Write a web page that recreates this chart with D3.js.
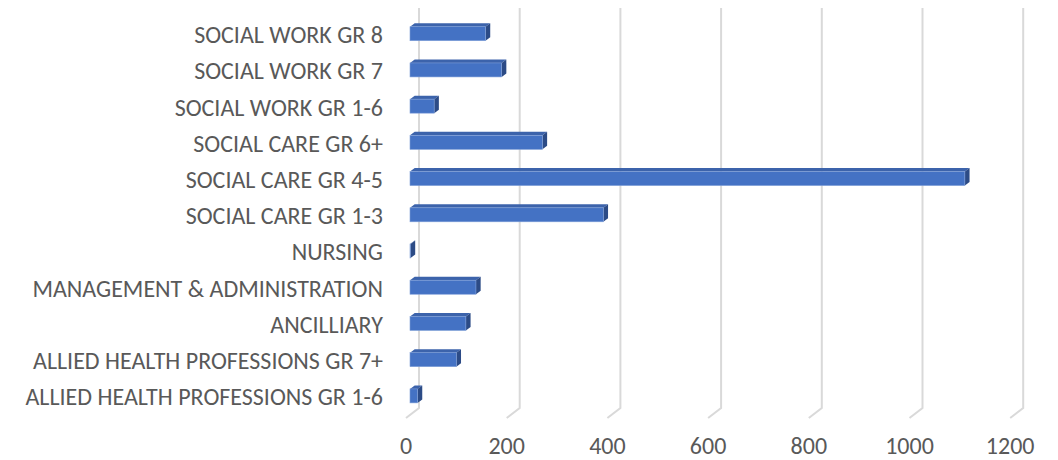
<!DOCTYPE html>
<html>
<head>
<meta charset="utf-8">
<script src="https://cdn.jsdelivr.net/npm/d3@7"></script>
<style>
  html, body { margin: 0; padding: 0; background: #ffffff; }
  svg { display: block; }
  text { font-family: Carlito, Lato, "Open Sans", sans-serif; fill: #595959; }
</style>
</head>
<body>
<svg id="chart" width="1058" height="460"></svg>
<script>
// Staff headcount by grade group
const categories = [
  "ALLIED HEALTH PROFESSIONS GR 1-6",
  "ALLIED HEALTH PROFESSIONS GR 7+",
  "ANCILLIARY",
  "MANAGEMENT & ADMINISTRATION",
  "NURSING",
  "SOCIAL CARE GR 1-3",
  "SOCIAL CARE GR 4-5",
  "SOCIAL CARE GR 6+",
  "SOCIAL WORK GR 1-6",
  "SOCIAL WORK GR 7",
  "SOCIAL WORK GR 8"
];
const values = [15, 92, 111, 131, 1, 384, 1102, 263, 48, 182, 150];
const tickValues = [0, 200, 400, 600, 800, 1000, 1200];

const svg = d3.select("#chart");

// Oblique 3D layout: floor front edge, bar plane and back wall offsets
const floorFrontY = 418;
const wallBottomY = 408;
const wallTopY = 8;
const wallDX = 13, wallDY = -10;   // floor front -> back wall
const barDX = 4, barDY = -3;       // floor front -> bar front face
const depthDX = 4.7, depthDY = -3.5; // bar thickness

const x = d3.scaleLinear().domain([0, 1200]).range([406, 406 + 1200 * 0.5035]);

// Categories listed bottom-up, so the first one sits at the bottom
const y = d3.scaleBand()
  .domain(categories.slice().reverse())
  .range([15.6, 414])
  .padding(0);
const barH = 14;

// Gridlines: vertical on the back wall, then slanting across the floor
const grid = svg.append("g");
tickValues.forEach(v => {
  const bx = x(v) + wallDX;
  grid.append("polyline")
    .attr("points", `${bx},${wallTopY} ${bx},${wallBottomY} ${x(v)},${floorFrontY}`)
    .attr("fill", "none")
    .attr("stroke", "#d9d9d9")
    .attr("stroke-width", 2);
});

// Value axis labels along the front edge of the floor
svg.append("g").selectAll("text")
  .data(tickValues)
  .join("text")
  .attr("x", d => x(d))
  .attr("y", 454)
  .attr("text-anchor", "middle")
  .attr("font-size", 24)
  .text(d => d);

// Category labels
svg.append("g").selectAll("text")
  .data(categories)
  .join("text")
  .attr("x", 383)
  .attr("y", d => y(d) + y.bandwidth() / 2 + 1)
  .attr("dy", "0.35em")
  .attr("text-anchor", "end")
  .attr("font-size", 24)
  .text(d => d);

// 3D bars: front face, top face, right side face
const bars = svg.append("g");
categories.forEach((c, i) => {
  const v = values[i];
  const x0 = x(0) + barDX;
  const x1 = x(v) + barDX;
  const cy = y(c) + y.bandwidth() / 2;
  const top = cy - barH / 2, bot = cy + barH / 2;
  const g = bars.append("g");
  // top face
  g.append("polygon")
    .attr("points", [
      [x0, top], [x1, top], [x1 + depthDX, top + depthDY], [x0 + depthDX, top + depthDY]
    ].map(p => p.join(",")).join(" "))
    .attr("fill", "#3c63ab");
  // right side face
  g.append("polygon")
    .attr("points", [
      [x1, top], [x1 + depthDX, top + depthDY], [x1 + depthDX, bot + depthDY], [x1, bot]
    ].map(p => p.join(",")).join(" "))
    .attr("fill", "#2c4b86");
  // front face
  g.append("rect")
    .attr("x", x0)
    .attr("y", top)
    .attr("width", Math.max(0, x1 - x0))
    .attr("height", barH)
    .attr("fill", "#4472c4")
    .attr("stroke", "#7f9fd8")
    .attr("stroke-width", 0.6);
});
</script>
</body>
</html>
